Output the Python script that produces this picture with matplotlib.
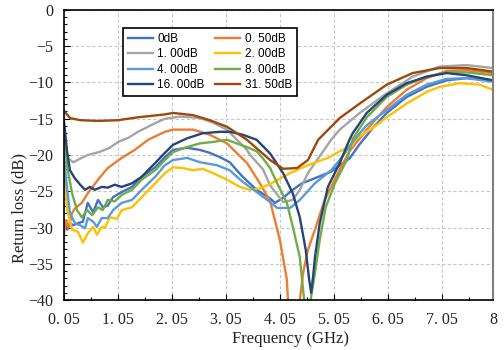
import matplotlib
matplotlib.use("Agg")
import matplotlib.pyplot as plt
from matplotlib.ticker import FixedLocator, MultipleLocator

labels = ['0dB', '0. 50dB', '1. 00dB', '2. 00dB', '4. 00dB', '8. 00dB', '16. 00dB', '31. 50dB']
colors = ['#4472C4', '#ED7D31', '#A5A5A5', '#FFC000', '#5B9BD5', '#70AD47', '#264478', '#9E480E']

f_0 = [0.05, 0.11, 0.16, 0.22, 0.31, 0.40, 0.49, 0.59, 0.68, 0.77, 0.86, 0.96, 1.12, 1.31, 1.49, 1.74,
       1.92, 2.07, 2.33, 2.57, 2.75, 2.94, 3.12, 3.36, 3.62, 3.87, 3.96, 4.11, 4.29, 4.46, 4.70, 5.00,
       5.16, 5.34, 5.53, 5.77, 6.03, 6.40, 6.77, 7.14, 7.51, 8.00]
rl_0 = [-29.0, -30.3, -29.4, -29.7, -29.4, -29.2, -26.6, -27.9, -26.2, -27.2, -27.0, -25.8, -25.1, -24.4,
        -23.0, -21.7, -20.3, -19.3, -19.0, -19.3, -19.7, -20.3, -21.0, -23.0, -24.8, -26.0, -26.6, -25.9,
        -24.8, -23.9, -23.2, -22.3, -21.4, -20.5, -18.5, -16.3, -14.2, -12.0, -10.6, -9.7, -9.4, -9.7]

f_05 = [0.05, 0.09, 0.14, 0.20, 0.25, 0.38, 0.49, 0.68, 0.86, 1.12, 1.36, 1.61, 1.92, 2.07, 2.44, 2.75,
        3.07, 3.44, 3.68, 3.87, 4.05, 4.18, 4.20, 4.31, 4.42, 4.48, 4.57, 4.70, 4.88, 5.16, 5.34, 5.66,
        6.03, 6.40, 6.77, 7.14, 7.51, 8.00]
rl_05 = [-30.8, -29.0, -30.0, -28.0, -27.4, -26.6, -25.3, -23.4, -21.8, -20.4, -19.3, -17.9, -16.8, -16.5,
         -16.5, -17.2, -18.4, -21.1, -23.9, -26.4, -31.7, -37.2, -40.0, -44.0, -40.0, -36.3, -33.1, -30.3,
         -26.2, -22.0, -19.5, -16.5, -13.4, -11.0, -9.4, -8.4, -8.3, -8.7]

f_1 = [0.05, 0.12, 0.22, 0.35, 0.49, 0.70, 0.90, 1.05, 1.25, 1.42, 1.74, 1.92, 2.20, 2.57, 2.80, 3.07,
       3.44, 3.50, 3.74, 3.87, 4.11, 4.29, 4.42, 4.57, 5.00, 5.16, 5.53, 6.03, 6.51, 7.01, 7.51, 8.00]
rl_1 = [-20.0, -20.4, -21.0, -20.5, -20.0, -19.6, -19.0, -18.2, -17.6, -16.8, -15.6, -15.0, -14.7, -14.9,
        -15.5, -16.5, -19.3, -20.0, -22.0, -24.2, -26.5, -26.2, -24.8, -22.5, -17.9, -16.5, -14.2, -11.5,
        -9.2, -7.8, -7.6, -8.0]

f_2 = [0.05, 0.11, 0.20, 0.31, 0.40, 0.49, 0.59, 0.66, 0.75, 0.81, 0.90, 1.03, 1.12, 1.31, 1.49, 1.74,
       1.92, 2.07, 2.25, 2.44, 2.62, 2.81, 3.07, 3.31, 3.49, 3.68, 3.87, 4.24, 4.57, 4.94, 5.16, 5.34,
       5.53, 5.77, 6.03, 6.40, 6.77, 7.01, 7.38, 7.75, 8.00]
rl_2 = [-22.5, -27.6, -30.3, -30.6, -32.1, -30.8, -29.9, -31.0, -29.9, -30.0, -28.6, -28.8, -27.6, -27.2,
        -25.8, -23.9, -22.5, -21.7, -21.8, -22.1, -21.9, -22.5, -23.4, -24.4, -24.8, -24.6, -24.0, -22.5,
        -21.4, -20.4, -19.5, -18.8, -17.4, -16.3, -14.8, -12.9, -11.3, -10.6, -10.1, -10.3, -11.0]

f_4 = [0.05, 0.11, 0.16, 0.25, 0.35, 0.44, 0.49, 0.59, 0.66, 0.75, 0.86, 0.96, 1.12, 1.31, 1.49, 1.74,
       1.92, 2.07, 2.33, 2.57, 2.88, 3.12, 3.36, 3.62, 3.87, 4.00, 4.24, 4.42, 4.70, 5.00, 5.16, 5.34,
       5.53, 5.66, 6.03, 6.40, 6.77, 7.14, 7.51, 8.00]
rl_4 = [-20.4, -24.8, -28.0, -29.4, -29.7, -30.1, -28.7, -29.2, -29.9, -28.7, -28.7, -27.6, -26.6, -26.2,
        -24.8, -23.0, -21.4, -20.7, -20.4, -21.0, -21.4, -22.1, -23.7, -25.1, -26.5, -27.3, -27.3, -26.2,
        -23.9, -22.1, -20.7, -18.8, -17.0, -15.9, -13.8, -11.7, -10.3, -9.5, -9.4, -9.9]

f_8 = [0.05, 0.11, 0.20, 0.29, 0.38, 0.48, 0.57, 0.68, 0.77, 0.86, 0.99, 1.12, 1.31, 1.49, 1.74, 1.92,
       2.07, 2.33, 2.57, 2.81, 3.07, 3.25, 3.44, 3.62, 3.74, 3.87, 4.00, 4.18, 4.29, 4.42, 4.50, 4.57,
       4.62, 4.70, 4.79, 4.90, 5.07, 5.29, 5.40, 5.66, 6.03, 6.40, 6.77, 7.14, 7.51, 8.00]
rl_8 = [-17.0, -21.7, -25.3, -27.6, -28.6, -27.6, -28.3, -27.2, -27.6, -26.2, -26.4, -25.5, -24.8, -23.4,
        -22.1, -20.7, -19.6, -18.9, -18.4, -18.2, -17.9, -18.4, -18.9, -19.5, -20.5, -21.8, -23.9, -26.6,
        -29.9, -34.1, -40.0, -43.0, -40.0, -36.3, -31.7, -27.2, -23.9, -20.7, -17.8, -14.8, -12.0, -10.3,
        -9.2, -8.6, -8.6, -9.0]

f_16 = [0.05, 0.11, 0.16, 0.25, 0.35, 0.44, 0.53, 0.62, 0.75, 0.86, 0.99, 1.12, 1.31, 1.49, 1.74, 1.92,
        2.07, 2.33, 2.62, 2.94, 3.12, 3.36, 3.62, 3.87, 4.11, 4.29, 4.42, 4.53, 4.59, 4.63, 4.67, 4.70,
        4.79, 4.94, 5.16, 5.34, 5.40, 5.66, 6.03, 6.40, 6.77, 7.14, 7.51, 8.00]
rl_16 = [-15.4, -19.7, -22.1, -23.2, -24.1, -24.8, -24.4, -24.8, -24.4, -24.5, -24.1, -24.4, -23.9, -23.0,
         -21.1, -19.7, -18.6, -17.7, -17.0, -16.8, -16.8, -17.2, -17.9, -19.8, -22.5, -25.3, -28.6, -33.1,
         -37.0, -39.0, -36.5, -34.1, -29.4, -24.4, -21.1, -17.9, -17.0, -14.2, -11.7, -10.1, -9.2, -8.7,
         -9.0, -9.7]

f_315 = [0.05, 0.16, 0.35, 0.68, 1.05, 1.42, 1.92, 2.07, 2.44, 2.75, 3.07, 3.44, 3.87, 4.11, 4.37, 4.57,
         4.76, 5.16, 5.53, 6.03, 6.51, 7.01, 7.51, 8.00]
rl_315 = [-13.9, -14.9, -15.2, -15.3, -15.2, -14.8, -14.4, -14.2, -14.5, -15.2, -16.1, -17.9, -20.7, -21.9,
          -21.8, -20.7, -17.9, -14.9, -12.9, -10.3, -8.7, -8.0, -8.0, -8.5]

freqs = [f_0, f_05, f_1, f_2, f_4, f_8, f_16, f_315]
losses = [rl_0, rl_05, rl_1, rl_2, rl_4, rl_8, rl_16, rl_315]

xticks = [0.05, 1.05, 2.05, 3.05, 4.05, 5.05, 6.05, 7.05, 8]
xticklabels = ['0. 05', '1. 05', '2. 05', '3. 05', '4. 05', '5. 05', '6. 05', '7. 05', '8']
xminor = [0.55, 1.55, 2.55, 3.55, 4.55, 5.55, 6.55, 7.55]

serif = 'Liberation Serif'

fig = plt.figure(figsize=(5.04, 3.5), dpi=100)
ax = fig.add_axes([64 / 504, 50 / 350, 429 / 504, 290 / 350])

handles = []
for f, rl, c, lab in zip(freqs, losses, colors, labels):
    h, = ax.plot(f, rl, color=c, lw=1.7, label=lab, solid_joinstyle='round')
    handles.append(h)

ax.set_xlim(0.05, 8)
ax.set_ylim(-40, 0)
ax.xaxis.set_major_locator(FixedLocator(xticks))
ax.set_xticklabels(xticklabels)
ax.xaxis.set_minor_locator(FixedLocator(xminor))
ax.yaxis.set_major_locator(MultipleLocator(5))
ax.yaxis.set_minor_locator(MultipleLocator(1))

ax.grid(True, which='major', color='#c8c8c8', linestyle=(0, (3, 2)), lw=0.8)
ax.set_axisbelow(True)
ax.tick_params(which='both', direction='in', color='black')
ax.tick_params(which='major', length=4, width=0.8, labelsize=11.5)
ax.tick_params(axis='x', which='major', pad=9)
ax.tick_params(axis='y', which='major', pad=8)
ax.tick_params(which='minor', length=2.5, width=0.8)
for lab in ax.get_xticklabels() + ax.get_yticklabels():
    lab.set_family(serif)
    lab.set_color('#222222')

for s in ['left', 'bottom', 'top']:
    ax.spines[s].set_color('black')
    ax.spines[s].set_linewidth(1.2)
ax.spines['right'].set_color('#808080')
ax.spines['right'].set_linewidth(1.5)

ax.set_xlabel('Frequency (GHz)', family=serif, fontsize=12, color='#222222')
ax.set_ylabel('Return loss (dB)', family=serif, fontsize=12, color='#222222')
ax.xaxis.set_label_coords(227 / 429, -31 / 290)
ax.yaxis.set_label_coords(-37 / 429, 0.317)

order = [0, 2, 4, 6, 1, 3, 5, 7]
leg = ax.legend([handles[i] for i in order], [labels[i] for i in order], ncol=2,
                loc='upper left', bbox_to_anchor=(59 / 429, 1 - 18 / 290),
                prop={'family': 'Liberation Sans', 'size': 8.5},
                handlelength=2.1, handletextpad=0.4, columnspacing=0.9,
                labelspacing=0.3, borderpad=0.4, fancybox=False, framealpha=1,
                edgecolor='black', borderaxespad=0)
leg.get_frame().set_linewidth(1.2)

fig.savefig('out.png', dpi=100)
